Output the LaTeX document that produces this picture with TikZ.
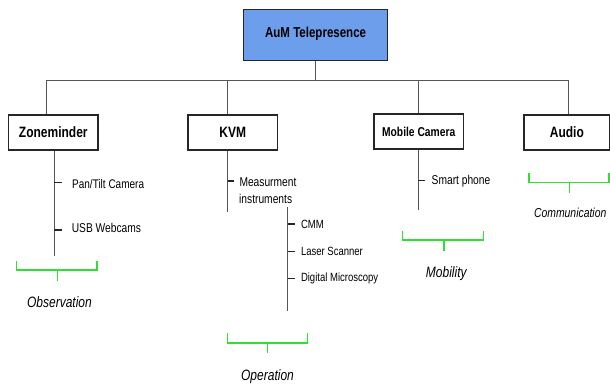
\documentclass[tikz,border=0pt]{standalone}
\usepackage{fontspec}
\setmainfont{Liberation Sans}[FakeStretch=0.8]
\definecolor{topblue}{RGB}{109,158,235}
\definecolor{brgreen}{RGB}{50,222,50}
\definecolor{linegray}{RGB}{85,85,85}
\begin{document}
\begin{tikzpicture}[x=1pt,y=-1pt,
  box/.style={draw=black!85, line width=1.4pt, minimum height=35pt, minimum width=89.5pt,
    inner sep=0pt, font=\bfseries\fontsize{15}{17}\selectfont},
  conn/.style={draw=linegray, line width=1pt},
  tickmark/.style={draw=black!85, line width=1.3pt},
  item/.style={anchor=west, inner sep=0pt, font=\fontsize{12.8}{15}\selectfont},
  subitem/.style={anchor=west, inner sep=0pt, font=\fontsize{11.9}{14}\selectfont},
  brk/.style={draw=brgreen, line width=1.4pt},
  captxt/.style={font=\itshape\fontsize{15}{17}\selectfont, inner sep=0pt}]
\useasboundingbox (0,0) rectangle (610,385);
% top node
\node[draw=black!85, line width=1.4pt, fill=topblue, minimum width=144pt, minimum height=51.4pt,
  inner sep=0pt, font=\bfseries\fontsize{14.4}{16}\selectfont] (top) at (315.6,35)
  {\raisebox{5.7pt}{AuM Telepresence}};
% children
\node[box] (zm) at (53.3,132.5) {Zoneminder};
\node[box] (kvm) at (232.7,132.5) {KVM};
\node[box, font=\bfseries\fontsize{12.85}{15}\selectfont] (mc) at (418.7,131.5) {Mobile Camera};
\node[box, minimum width=85.5pt] (au) at (566.9,132.5) {Audio};
% bus
\coordinate (j) at (315.6,81);
\coordinate (b1) at (46.3,81);
\coordinate (b2) at (227.6,81);
\coordinate (b3) at (418.3,81);
\coordinate (b4) at (568.9,81);
\draw[conn] (top.south) -- (j);
\draw[conn] (b1) -- (b4);
\draw[conn] (b1) -- (b1 |- zm.north);
\draw[conn] (b2) -- (b2 |- kvm.north);
\draw[conn] (b3) -- (b3 |- mc.north);
\draw[conn] (b4) -- (b4 |- au.north);
% Zoneminder items
\coordinate (zmend) at (54.1,255.7);
\draw[conn] (zmend |- zm.south) -- (zmend);
\node[item, font=\fontsize{12.5}{15}\selectfont] (pan) at (72,184) {Pan/Tilt Camera};
\node[item] (usb) at (71.6,228) {USB Webcams};
\draw[tickmark] (54.1,182.7) -- ++(7.4,0);
\draw[tickmark] (54.1,230) -- ++(7.4,0);
% KVM items
\coordinate (kvmend) at (227.6,211.7);
\draw[conn] (kvmend |- kvm.south) -- (kvmend);
\node[item] (meas1) at (239.3,182.3) {Measurment};
\node[item] (meas2) at (239,198.7) {instruments};
\draw[tickmark] (227.6,181) -- ++(6,0);
\coordinate (subtop) at (287.5,206.7);
\coordinate (subend) at (287.5,311);
\draw[conn] (subtop) -- (subend);
\node[subitem] (cmm) at (300.8,224) {CMM};
\node[subitem] (laser) at (300.8,251.3) {Laser Scanner};
\node[subitem] (micro) at (300.8,278.7) {Digital Microscopy};
\draw[tickmark] (subtop |- cmm) -- ++(7.5,0);
\draw[tickmark] (subtop |- laser) -- ++(7.5,0);
\draw[tickmark] (subtop |- micro) -- ++(7.5,0);
% Mobile camera items
\coordinate (mcend) at (418.3,210);
\draw[conn] (mcend |- mc.south) -- (mcend);
\node[item] (phone) at (431.5,180.7) {Smart phone};
\draw[tickmark] (mcend |- phone) -- ++(7,0);
% brackets
\draw[brk] (16.7,261) -- (16.7,270) -- (96.9,270) -- (96.9,261);
\draw[brk] (57.2,270) -- (57.2,281);
\node[captxt] (obs) at (59.5,301.7) {Observation};
\draw[brk] (227.2,333.3) -- (227.2,343) -- (307.4,343) -- (307.4,333.3);
\draw[brk] (267.3,343) -- (267.3,353.3);
\node[captxt] (op) at (267.5,376.7) {Operation};
\draw[brk] (402.7,230.7) -- (402.7,240) -- (483.7,240) -- (483.7,230.7);
\draw[brk] (444,240) -- (444,250.7);
\node[captxt] (mob) at (446.3,273.3) {Mobility};
\draw[brk] (528.8,172.7) -- (528.8,182.3) -- (609,182.3) -- (609,172.7);
\draw[brk] (569.3,182.3) -- (569.3,192.7);
\node[captxt, font=\itshape\fontsize{13}{15}\selectfont] (com) at (570.2,212.7) {Communication};
\end{tikzpicture}
\end{document}
